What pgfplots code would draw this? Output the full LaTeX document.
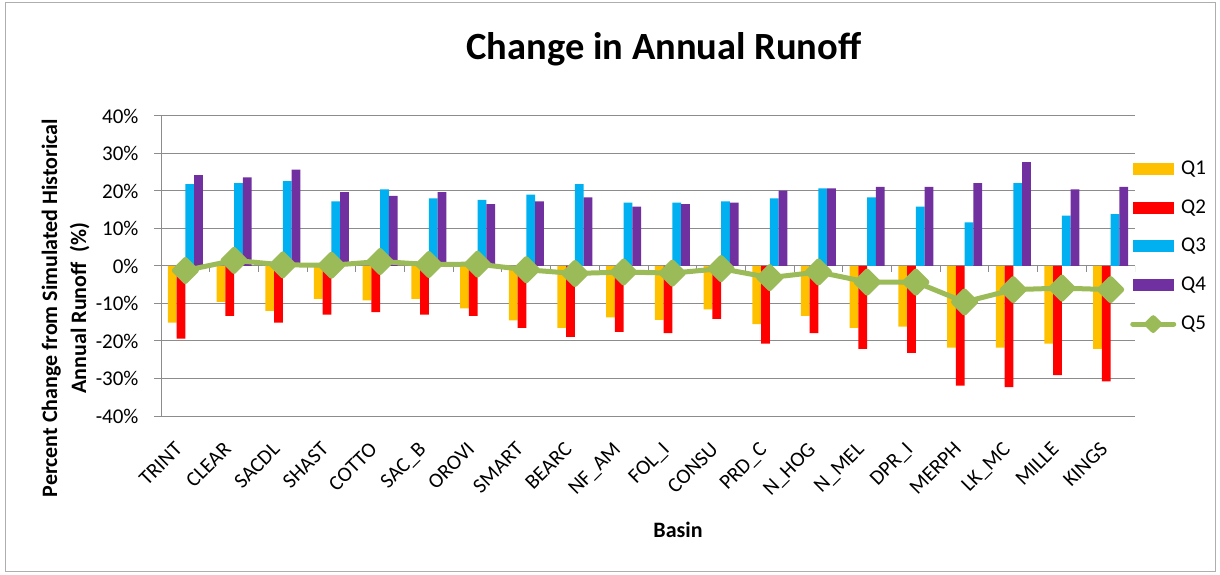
\documentclass[border=0pt]{standalone}
\usepackage{fontspec}
\setmainfont{Carlito}
\usepackage{pgfplots}
\usepackage{pgfplotstable}
\pgfplotsset{compat=1.18}
\definecolor{qone}{HTML}{FFC000}
\definecolor{qtwo}{HTML}{FF0000}
\definecolor{qthree}{HTML}{00B0F0}
\definecolor{qfour}{HTML}{7030A0}
\definecolor{qfive}{HTML}{9BBB59}
\definecolor{gridgray}{HTML}{8C8C8C}
\newcommand{\fs}[2]{\fontsize{#1bp}{#2bp}\selectfont}

% percent change from simulated historical annual runoff
\pgfplotstableread{
idx q1 q2 q3 q4 q5
0 -15.1 -19.4 21.8 24.2 -1.2
1 -9.6 -13.3 22.1 23.6 1.5
2 -12.0 -15.1 22.6 25.7 0.3
3 -8.8 -13.0 17.2 19.7 0.2
4 -9.2 -12.3 20.4 18.7 1.2
5 -8.8 -13.0 18.0 19.7 0.4
6 -11.3 -13.3 17.6 16.5 0.5
7 -14.5 -16.5 19.0 17.2 -1.0
8 -16.5 -18.9 21.8 18.3 -2.0
9 -13.7 -17.6 16.9 15.8 -1.6
10 -14.4 -17.9 16.9 16.5 -1.9
11 -11.6 -14.1 17.2 16.9 -0.7
12 -15.5 -20.7 18.0 20.1 -3.1
13 -13.3 -17.9 20.7 20.7 -1.6
14 -16.5 -22.1 18.3 21.1 -4.3
15 -16.2 -23.2 15.8 21.1 -4.3
16 -21.8 -31.9 11.6 22.1 -9.6
17 -21.8 -32.3 22.1 27.7 -6.3
18 -20.7 -29.1 13.4 20.4 -5.9
19 -22.1 -30.8 13.8 21.1 -6.3
}\runoff

\pgfplotsset{
  barleg/.style={legend image code/.code={\fill[##1] (0bp,-6bp) rectangle (41bp,6bp);}},
  lineleg/.style={legend image code/.code={\draw[##1, mark size=4.5bp, mark repeat=2, mark phase=2] plot coordinates {(0bp,0bp) (20.5bp,0bp) (41bp,0bp)};}},
}

\begin{document}
\begin{tikzpicture}
\path[use as bounding box] (0bp,0bp) rectangle (1220bp,575bp);
\draw[gridgray!70, line width=1bp] (5bp,3bp) rectangle (1215bp,572bp);
\begin{axis}[
  at={(161bp,159bp)}, anchor=south west,
  width=974bp, height=300bp, scale only axis,
  xmin=-0.5, xmax=19.5, ymin=-40, ymax=40,
  axis y line*=left, axis x line*=bottom,
  axis line style={gridgray, line width=1bp},
  ytick={-40,-30,...,40},
  ymajorgrids, grid style={gridgray, line width=1bp},
  tick align=outside, major tick length=7bp,
  ytick style={gridgray, line width=1bp},
  xtick={0,...,19}, xtick style={draw=none},
  xticklabels={TRINT,CLEAR,SACDL,SHAST,COTTO,SAC\_B,OROVI,SMART,BEARC,NF\_AM,FOL\_I,CONSU,PRD\_C,N\_HOG,N\_MEL,DPR\_I,MERPH,LK\_MC,MILLE,KINGS},
  xticklabel style={font=\fs{21}{21}, rotate=45, anchor=north east, inner sep=0pt, xshift=-20.8bp, yshift=-4.4bp},
  yticklabel={\pgfmathprintnumber{\tick}\%},
  yticklabel style={font=\fs{21}{21}, /pgf/number format/assume math mode=true, xshift=-12bp},
  title={Change in Annual Runoff},
  title style={font=\bfseries\fs{38.5}{38.5}, at={(axis description cs:0.5164,1.167)}, anchor=base, inner sep=0pt},
  xlabel={Basin},
  xlabel style={font=\bfseries\fs{22}{22}, at={(axis description cs:0.5308,-0.38)}, anchor=center},
  ylabel={Percent Change from Simulated Historical\\Annual Runoff\ \ (\%)},
  ylabel style={font=\bfseries\fs{22}{29}, align=center, at={(axis description cs:-0.098,0.36)}, anchor=center},
  legend style={draw=none, fill=none, font=\fs{21}{21}, at={(axis description cs:0.9949,0.565)}, anchor=west,
    inner sep=0pt, row sep=21.8bp, column sep=5bp,
    nodes={inner sep=0pt, text height=14bp, text depth=3bp}},
  legend cell align=left,
]
\addplot[ybar, bar width=8.75bp, bar shift=-13.125bp, fill=qone, draw=none, barleg] table[x=idx,y=q1]{\runoff};
\addlegendentry{Q1}
\addplot[ybar, bar width=8.75bp, bar shift=-4.375bp, fill=qtwo, draw=none, barleg] table[x=idx,y=q2]{\runoff};
\addlegendentry{Q2}
\addplot[ybar, bar width=8.75bp, bar shift=4.375bp, fill=qthree, draw=none, barleg] table[x=idx,y=q3]{\runoff};
\addlegendentry{Q3}
\addplot[ybar, bar width=8.75bp, bar shift=13.125bp, fill=qfour, draw=none, barleg] table[x=idx,y=q4]{\runoff};
\addlegendentry{Q4}
\pgfplotsinvokeforeach{-0.5,0.5,...,19.5}{
  \draw[gridgray, line width=1bp] (axis cs:#1,0) -- ++(0bp,-6bp);
}
\addplot[qfive, line width=5bp, line join=round, line cap=round,
  mark=square*, mark size=7.8bp, mark options={rotate=45, draw=none, fill=qfive}, lineleg]
  table[x=idx,y=q5]{\runoff};
\addlegendentry{Q5}
\end{axis}
\end{tikzpicture}
\end{document}
